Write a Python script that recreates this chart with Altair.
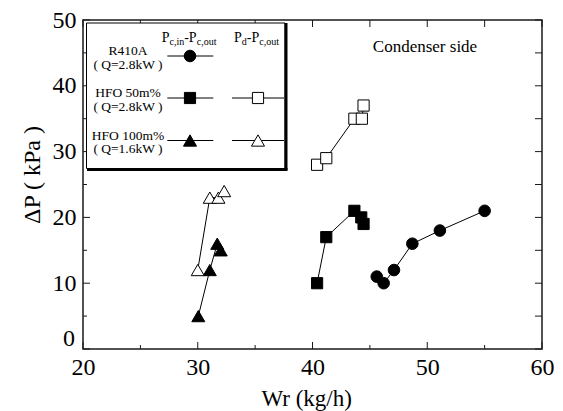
import altair as alt
import pandas as pd

FONT = "Liberation Serif, Times New Roman, serif"

# Refrigerant mass flow rate Wr (kg/h) and pressure drop dP (kPa), condenser side
r410a_wr = [45.6, 46.2, 47.1, 48.7, 51.1, 55.0]
r410a_dp_cond = [11, 10, 12, 16, 18, 21]

hfo50_wr = [40.4, 41.2, 43.65, 44.25, 44.45]
hfo50_dp_cond = [10, 17, 21, 20, 19]
hfo50_wr_dis = [40.4, 41.2, 43.65, 44.3, 44.45]
hfo50_dp_dis = [28, 29, 35, 35, 37]

hfo100_wr = [30.05, 31.05, 31.7, 32.0]
hfo100_dp_cond = [5, 12, 16, 15]
hfo100_wr_dis = [30.0, 31.05, 31.8, 32.3]
hfo100_dp_dis = [12, 23, 23, 24]

x_major = [20, 30, 40, 50, 60]
x_minor = [25, 35, 45, 55]
y_major = [10, 20, 30, 40, 50]
y_minor = [5, 15, 25, 35, 45]

W, H = 459, 329
INK = "#1a1a1a"

xs = alt.Scale(domain=[20, 60], nice=False, zero=False)
ys = alt.Scale(domain=[0, 50], nice=False, zero=False)

xaxis = alt.Axis(values=x_major, format="d", ticks=False, tickSize=0, domain=False,
                 grid=False, labelFont=FONT, labelFontSize=24, labelColor="black",
                 labelPadding=6, labelFlush=False, title=None)
yaxis = alt.Axis(values=y_major, format="d", ticks=False, tickSize=0, domain=False,
                 grid=False, labelFont=FONT, labelFontSize=24, labelColor="black",
                 labelPadding=7, labelFlush=False, title=None)

one = pd.DataFrame({"k": [0]})

SIZES = {"circle": 135, "square": 125, "triangle-up": 170}


def series(wr, dp, shape, filled):
    df = pd.DataFrame({"wr": wr, "dp": dp})
    base = alt.Chart(df).encode(
        x=alt.X("wr:Q", scale=xs, axis=xaxis),
        y=alt.Y("dp:Q", scale=ys, axis=yaxis),
    )
    line = base.mark_line(color="black", strokeWidth=1)
    pts = base.mark_point(shape=shape, size=SIZES[shape], filled=True,
                          fill="black" if filled else "white", stroke="black",
                          strokeWidth=1, opacity=1)
    return [line, pts]


def xticks(vals, length, top=False):
    df = pd.DataFrame({"t": vals})
    y0 = 0 if top else H
    y1 = length if top else H - length
    return alt.Chart(df).mark_rule(color=INK, strokeWidth=1).encode(
        x=alt.X("t:Q", scale=xs, axis=xaxis), y=alt.value(y0), y2=alt.value(y1))


def yticks(vals, length, right=False):
    df = pd.DataFrame({"t": vals})
    x0 = W if right else 0
    x1 = W - length if right else length
    return alt.Chart(df).mark_rule(color=INK, strokeWidth=1).encode(
        y=alt.Y("t:Q", scale=ys, axis=yaxis), x=alt.value(x0), x2=alt.value(x1))


def text(s, x, y, size=14, align="left", baseline="alphabetic", angle=0):
    return alt.Chart(one).mark_text(text=s, font=FONT, fontSize=size, align=align,
                                    baseline=baseline, angle=angle, color="black").encode(
        x=alt.value(x), y=alt.value(y))


def rule(x1, y1, x2, y2, width=1):
    return alt.Chart(one).mark_rule(color="black", strokeWidth=width).encode(
        x=alt.value(x1), y=alt.value(y1), x2=alt.value(x2), y2=alt.value(y2))


def symbol(x, y, shape, filled):
    return alt.Chart(one).mark_point(shape=shape, size=SIZES[shape], filled=True,
                                     fill="black" if filled else "white", stroke="black",
                                     strokeWidth=1, opacity=1).encode(
        x=alt.value(x), y=alt.value(y))


layers = []

# inward ticks on all four sides
layers += [xticks(x_major, 7), xticks(x_minor, 4), xticks(x_major + x_minor, 7, top=True)]
layers += [yticks([0] + y_major, 7), yticks(y_minor, 4),
           yticks([0] + y_major + y_minor, 7, right=True)]

# measured series
layers += series(r410a_wr, r410a_dp_cond, "circle", True)
layers += series(hfo50_wr, hfo50_dp_cond, "square", True)
layers += series(hfo50_wr_dis, hfo50_dp_dis, "square", False)
layers += series(hfo100_wr, hfo100_dp_cond, "triangle-up", True)
layers += series(hfo100_wr_dis, hfo100_dp_dis, "triangle-up", False)

# legend box
layers.append(alt.Chart(one).mark_rect(fill="white", stroke="black", strokeWidth=1).encode(
    x=alt.value(3.5), x2=alt.value(202), y=alt.value(3), y2=alt.value(148.5)))
layers.append(rule(203, 3, 203, 150, 3))
layers.append(rule(4, 149.5, 204.5, 149.5, 3))

# column headers: P_c,in - P_c,out  and  P_d - P_c,out
hy, sy = 21.7, 24.5
layers += [text("P", 78.7, hy), text("c,in", 86.5, sy, 10), text("-P", 101.2, hy),
           text("c,out", 113.7, sy, 10)]
layers += [text("P", 151, hy), text("d", 158.8, sy, 10), text("-P", 163.8, hy),
           text("c,out", 176.3, sy, 10)]

rows = [
    ("R410A", "( Q=2.8kW )", 36, "circle", False),
    ("HFO 50m%", "( Q=2.8kW )", 78, "square", True),
    ("HFO 100m%", "( Q=1.6kW )", 120.5, "triangle-up", True),
]
for name, q, yc, shape, has_dis in rows:
    layers.append(text(name, 45, yc - 1, 13.5, align="center"))
    layers.append(text(q, 45, yc + 12.5, 13.5, align="center"))
    layers.append(rule(84.3, yc, 130.3, yc))
    layers.append(symbol(107, yc, shape, True))
    if has_dis:
        layers.append(rule(149, yc, 201, yc))
        layers.append(symbol(175, yc, shape, False))

# the zero label of the pressure axis sits a little above the corner
layers.append(text("0", -8, H - 10, 24, align="right", baseline="middle"))

# annotation and axis titles
layers.append(text("Condenser side", 342, 32, 17, align="center"))
layers.append(text("ΔP ( kPa )", -50, 155, 24, align="center", baseline="middle", angle=270))
layers.append(text("Wr (kg/h)", 223.7, 379, 23, align="center", baseline="middle"))

chart = alt.layer(*layers).properties(
    width=W, height=H,
    autosize=alt.AutoSizeParams(type="none"),
    padding={"left": 83, "top": 20, "right": 21, "bottom": 62},
    background="white",
).configure_view(
    stroke=INK, strokeWidth=1.5
).configure_axis(
    labelFont=FONT, labelFontSize=24, labelColor="black"
).configure_text(font=FONT)

chart.save("out.html", embed_options={"renderer": "svg", "actions": False})
